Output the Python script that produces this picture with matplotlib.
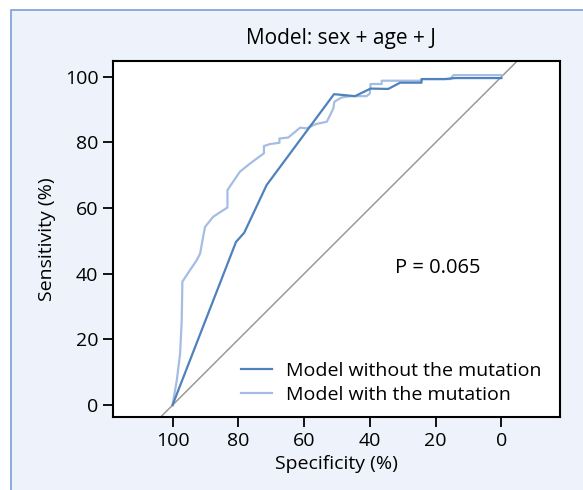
import matplotlib.pyplot as plt
from matplotlib.patches import Rectangle

plt.rcParams['font.family'] = ['Open Sans', 'DejaVu Sans']

# ROC curves (specificity %, sensitivity %)
spec_without = [100, 80.7, 78.2, 71.4, 50.9, 44.5, 39.8, 34.4, 30.8, 24.3, 24.3, 17.2, 14.1, 0]
sens_without = [0, 49.7, 52.5, 67.0, 94.7, 94.1, 96.4, 96.3, 98.2, 98.2, 99.3, 99.3, 99.6, 99.6]

spec_with = [100, 98.7, 97.7, 97.2, 97.0, 94.7, 92.6, 91.6, 90.6, 90.1, 87.6, 83.3, 83.3,
             79.5, 76.4, 72.2, 72.2, 70.4, 67.5, 67.5, 64.8, 61.2, 59.2, 56.4, 53.1,
             52.1, 51.1, 50.8, 48.6, 46.0, 41.0, 40.0, 39.8, 36.4, 36.4, 24.8, 23.8,
             15.5, 14.6, 0]
sens_with = [0, 7.6, 15.7, 25.9, 37.6, 41.1, 44.2, 46.2, 51.8, 54.3, 57.4, 60.2, 65.5,
             71.1, 73.6, 76.7, 78.9, 79.5, 79.9, 81.2, 81.5, 84.5, 84.3, 85.6, 86.3,
             88.3, 90.4, 92.4, 93.7, 94.1, 94.1, 94.9, 97.8, 97.8, 98.8, 98.8, 99.3,
             99.3, 100.5, 100.5]

ticks = [100, 80, 60, 40, 20, 0]
labels = ['Model without the mutation', 'Model with the mutation']
p_text = 'P = 0.065'

fig = plt.figure(figsize=(5.83, 4.9), dpi=100)
fig.patch.set_facecolor('white')
# light panel with blue border on top and left
fig.patches.append(Rectangle((11 / 583, -0.05), 1.1, 1 - 10 / 490 + 0.05,
                             transform=fig.transFigure, facecolor='#eef2fa',
                             edgecolor='#7b9fd6', linewidth=1.2, zorder=-10))

ax = fig.add_axes([0.1938, 0.149, 0.7667, 0.7265])
ax.set_facecolor('white')

ax.plot([120, -20], [-20, 120], color='#9a9a9a', lw=1.1, zorder=1)
ax.plot(spec_without, sens_without, color='#4f81bd', lw=1.6, label=labels[0], zorder=3)
ax.plot(spec_with, sens_with, color='#a5bde3', lw=1.6, label=labels[1], zorder=2)

ax.set_xlim(118.1, -17.8)
ax.set_ylim(-3.6, 104.8)
ax.set_xticks(ticks)
ax.set_yticks(ticks)
ax.tick_params(labelsize=14, length=7, width=1.3, direction='out')
for s in ax.spines.values():
    s.set_linewidth(1.5)

ax.set_xlabel('Specificity (%)', fontsize=14, labelpad=4)
ax.set_ylabel('Sensitivity (%)', fontsize=14, labelpad=6)
fig.text(0.584, 0.922, 'Model: sex + age + J', fontsize=15, ha='center', va='center')
ax.text(19.3, 41.7, p_text, fontsize=14.5, ha='center', va='center')

ax.legend(loc='lower right', bbox_to_anchor=(0.985, 0.005), borderaxespad=0.2,
          frameon=False, fontsize=14, handlelength=1.6, handletextpad=0.7,
          labelspacing=0.3)

fig.savefig('out.png', dpi=100, facecolor=fig.get_facecolor())
